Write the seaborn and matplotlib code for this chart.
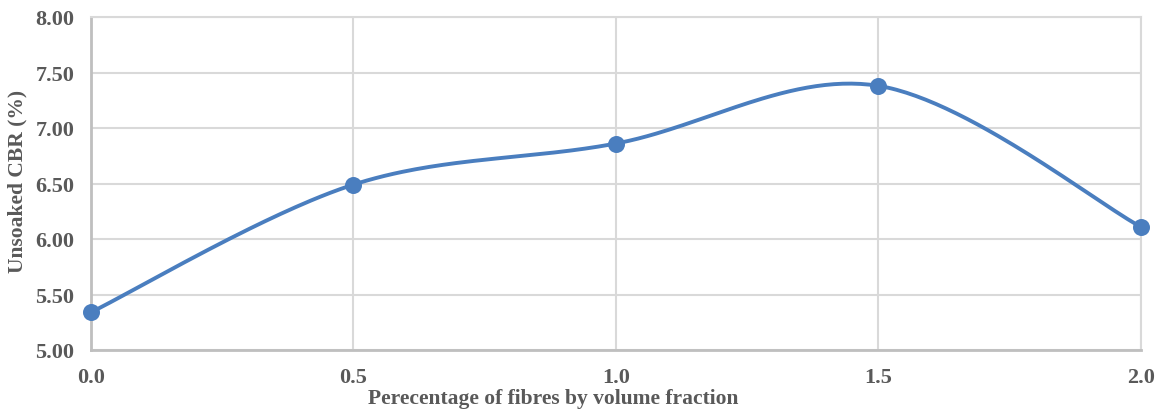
import numpy as np
import pandas as pd
import matplotlib
matplotlib.use("Agg")
import matplotlib.pyplot as plt
import seaborn as sns

# Data
fibre_pct = [0.0, 0.5, 1.0, 1.5, 2.0]
cbr_values = [5.34, 6.49, 6.86, 7.38, 6.11]
x_ticks = [0.0, 0.5, 1.0, 1.5, 2.0]
x_tick_labels = ["0.0", "0.5", "1.0", "1.5", "2.0"]
y_ticks = [5.0, 5.5, 6.0, 6.5, 7.0, 7.5, 8.0]
y_tick_labels = ["5.00", "5.50", "6.00", "6.50", "7.00", "7.50", "8.00"]
x_label = "Perecentage of fibres by volume fraction"
y_label = "Unsoaked CBR (%)"

sns.set_theme(style="white")
plt.rcParams['font.family'] = ['Liberation Serif', 'DejaVu Serif']

TXT = "#595959"
GRID = "#d9d9d9"
AXIS = "#bfbfbf"
BLUE = "#4a7ebf"


def smooth_curve(xs, ys, n=60):
    """Catmull-Rom style Bezier smoothing (like a spreadsheet smoothed line)."""
    P = np.column_stack([xs, ys]).astype(float)
    out = []
    m = len(P)
    for i in range(m - 1):
        p0 = P[i - 1] if i > 0 else P[i]
        p1 = P[i]
        p2 = P[i + 1]
        p3 = P[i + 2] if i + 2 < m else P[i + 1]
        c1 = p1 + (p2 - p0) / 6.0
        c2 = p2 - (p3 - p1) / 6.0
        t = np.linspace(0, 1, n)[:, None]
        seg = ((1 - t) ** 3) * p1 + 3 * ((1 - t) ** 2) * t * c1 + 3 * (1 - t) * t ** 2 * c2 + t ** 3 * p2
        out.append(seg if i == 0 else seg[1:])
    arr = np.vstack(out)
    return pd.DataFrame({"x": arr[:, 0], "y": arr[:, 1]})


fig = plt.figure(figsize=(11.57, 4.10), dpi=100)
ax = fig.add_axes([91 / 1157, 1 - 351 / 410, (1140.7 - 91) / 1157, (351 - 18) / 410])

curve = smooth_curve(fibre_pct, cbr_values)
sns.lineplot(data=curve, x="x", y="y", ax=ax, color=BLUE, linewidth=2.8, sort=False,
             estimator=None, zorder=3)
pts = pd.DataFrame({"x": fibre_pct, "y": cbr_values})
sns.scatterplot(data=pts, x="x", y="y", ax=ax, color=BLUE, s=150, edgecolor=BLUE,
                linewidth=0, zorder=4)
for coll in ax.collections:
    coll.set_clip_on(False)
for ln in ax.lines:
    ln.set_clip_on(False)

ax.set_xlim(0, 2.0)
ax.set_ylim(5.0, 8.0)
ax.set_xticks(x_ticks)
ax.set_xticklabels(x_tick_labels)
ax.set_yticks(y_ticks)
ax.set_yticklabels(y_tick_labels)
ax.grid(True, color=GRID, linewidth=1.5)
ax.set_axisbelow(True)
for s in ["top", "right"]:
    ax.spines[s].set_color(GRID)
    ax.spines[s].set_linewidth(1.5)
for s in ["left", "bottom"]:
    ax.spines[s].set_color(AXIS)
    ax.spines[s].set_linewidth(2)
for s in ax.spines.values():
    s.set_zorder(1)

ax.tick_params(axis="both", length=0, labelsize=16, labelcolor=TXT)
ax.tick_params(axis="y", pad=12)
ax.tick_params(axis="x", pad=12)
for lab in ax.get_xticklabels() + ax.get_yticklabels():
    lab.set_fontweight("bold")

ax.set_xlabel(x_label, fontsize=15.5, fontweight="bold", color=TXT)
ax.xaxis.set_label_coords(0.44, -0.159)
ax.xaxis.label.set_va("baseline")
ax.set_ylabel(y_label, fontsize=15.5, fontweight="bold", color=TXT)
ax.yaxis.set_label_coords(-0.0705, 0.51)
ax.yaxis.label.set_va("center")

fig.savefig("out.png", dpi=100)
